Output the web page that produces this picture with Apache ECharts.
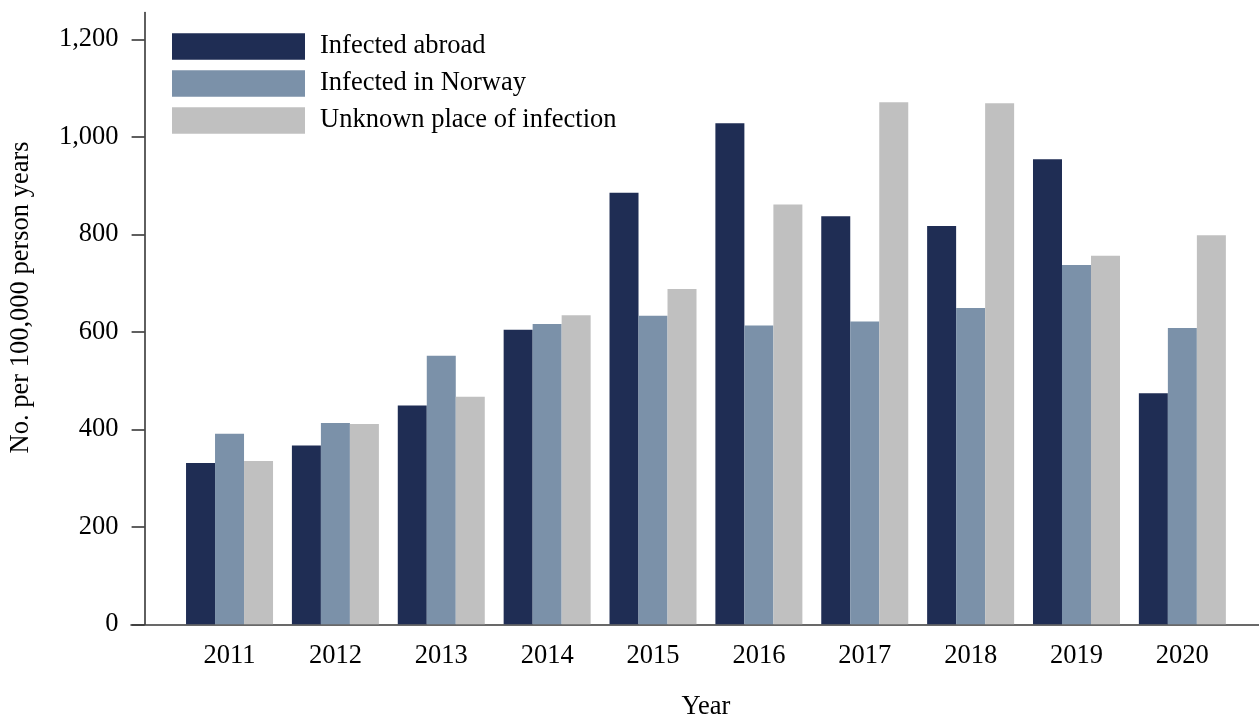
<!DOCTYPE html>
<html>
<head>
<meta charset="utf-8">
<script src="https://cdn.jsdelivr.net/npm/echarts@6/dist/echarts.min.js"></script>
<style>
html,body{margin:0;padding:0;background:#fff;}
#chart{width:1259px;height:716px;}
</style>
</head>
<body>
<div id="chart"></div>
<script>
const categories = ['2011', '2012', '2013', '2014', '2015', '2016', '2017', '2018', '2019', '2020'];
const seriesNames = ['Infected abroad', 'Infected in Norway', 'Unknown place of infection'];
const infectedAbroad = [331, 367, 449, 604, 885, 1028, 837, 817, 954, 474];
const infectedNorway = [391, 413, 551, 616, 633, 613, 621, 649, 737, 608];
const unknownPlace = [335, 411, 467, 634, 688, 861, 1071, 1069, 756, 798];
const yTicks = [0, 200, 400, 600, 800, 1000, 1200];
const xAxisName = 'Year';
const yAxisName = 'No. per 100,000 person years';

const FONT = "'Liberation Serif', 'Times New Roman', serif";
const FS = 26.5;
const colors = ['#1f2d54', '#7b91a9', '#c0c0c0'];
const axisColor = '#383838';

const chart = echarts.init(document.getElementById('chart'), null, {renderer: 'canvas'});
const gridPos = {top: 12.5, bottom: 91.7};

const option = {
  animation: false,
  backgroundColor: '#ffffff',
  textStyle: {fontFamily: FONT},
  color: colors,
  legend: {
    left: 172,
    top: 33,
    padding: 0,
    orient: 'vertical',
    itemWidth: 133,
    itemHeight: 26.5,
    itemGap: 10,
    icon: 'rect',
    selectedMode: false,
    data: seriesNames,
    textStyle: {fontFamily: FONT, fontSize: FS, color: '#000', lineHeight: 26, padding: [0, 0, 0, 10]}
  },
  grid: [
    {left: 176.6, right: 23.7, top: gridPos.top, bottom: gridPos.bottom, containLabel: false, outerBoundsMode: 'none'},
    {left: 131, right: 0, top: gridPos.top, bottom: gridPos.bottom, containLabel: false, outerBoundsMode: 'none'}
  ],
  xAxis: [
    {
      type: 'category',
      gridIndex: 0,
      data: categories,
      axisLine: {show: false},
      axisTick: {show: false},
      axisLabel: {fontFamily: FONT, fontSize: FS, color: '#000', margin: 18},
      splitLine: {show: false},
      name: xAxisName,
      nameLocation: 'middle',
      nameGap: 69,
      nameTextStyle: {fontFamily: FONT, fontSize: FS, color: '#000'}
    },
    {
      type: 'value',
      gridIndex: 1,
      min: 0, max: 1,
      axisLine: {show: true, lineStyle: {color: axisColor, width: 1.6}},
      axisTick: {show: false},
      axisLabel: {show: false},
      splitLine: {show: false}
    }
  ],
  yAxis: [
    {
      type: 'value',
      gridIndex: 0,
      min: 0,
      max: 1255,
      offset: 32,
      axisLine: {show: true, lineStyle: {color: axisColor, width: 1.6}},
      axisTick: {show: true, length: 13, customValues: yTicks, lineStyle: {color: axisColor, width: 1.6}},
      axisLabel: {
        customValues: yTicks,
        fontFamily: FONT, fontSize: FS, color: '#000', margin: 26,
        padding: [9, 0, 0, 0],
        formatter: v => Number(v).toLocaleString('en-US')
      },
      splitLine: {show: false},
      name: yAxisName,
      nameLocation: 'middle',
      nameRotate: 90,
      nameGap: 110,
      nameTextStyle: {fontFamily: FONT, fontSize: FS, color: '#000', padding: [0, 0, 0, 42]}
    },
    {
      type: 'value',
      gridIndex: 1,
      show: false
    }
  ],
  series: [infectedAbroad, infectedNorway, unknownPlace].map((d, i) => ({
    name: seriesNames[i],
    type: 'bar',
    xAxisIndex: 0,
    yAxisIndex: 0,
    data: d,
    barWidth: 29,
    barGap: '0%',
    itemStyle: {color: colors[i]}
  }))
};
chart.setOption(option);
</script>
</body>
</html>
